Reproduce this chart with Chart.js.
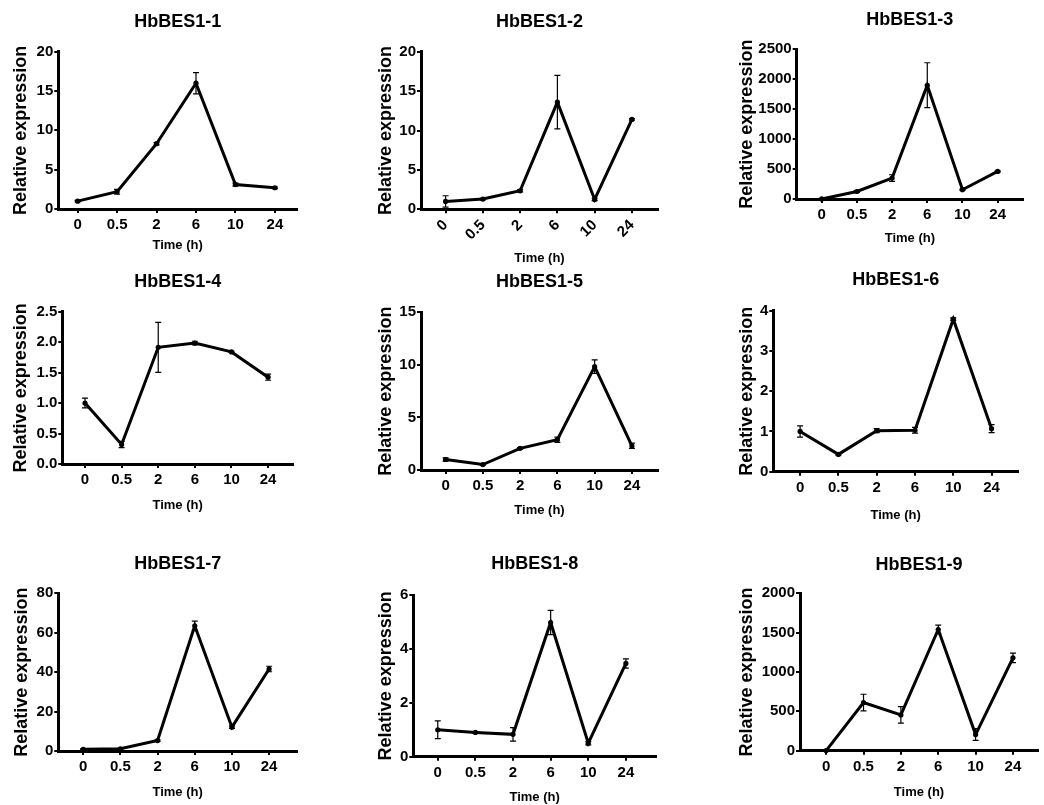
<!DOCTYPE html>
<html>
<head>
<meta charset="utf-8">
<script src="https://cdn.jsdelivr.net/npm/chart.js@4/dist/chart.umd.min.js"></script>
<style>
  body { margin: 0; background: #fff; }
  #wrap { position: relative; width: 1044px; height: 805px; overflow: hidden; }
  .panel { position: absolute; }
</style>
</head>
<body>
<div id="wrap"></div>
<script>
// time points (h)
const timeLabels = ['0', '0.5', '2', '6', '10', '24'];
const geneNames = ['HbBES1-1', 'HbBES1-2', 'HbBES1-3', 'HbBES1-4', 'HbBES1-5',
                   'HbBES1-6', 'HbBES1-7', 'HbBES1-8', 'HbBES1-9'];

// mean relative expression
const expr1 = [1.0, 2.2, 8.3, 16.0, 3.1, 2.7];
const expr2 = [1.0, 1.3, 2.35, 13.6, 1.25, 11.4];
const expr3 = [1, 125, 350, 1900, 155, 460];
const expr4 = [1.0, 0.32, 1.915, 1.985, 1.84, 1.425];
const expr5 = [1.0, 0.52, 2.06, 2.88, 9.83, 2.3];
const expr6 = [1.0, 0.43, 1.02, 1.03, 3.79, 1.07];
const expr7 = [0.9, 1.1, 5.3, 63.5, 12.1, 41.6];
const expr8 = [1.0, 0.9, 0.83, 4.98, 0.5, 3.46];
const expr9 = [1, 612, 455, 1540, 205, 1180];

// error bars (+/-)
const err1 = [0.1, 0.3, 0.15, 1.35, 0.2, 0.1];
const err2 = [0.72, 0.1, 0.15, 3.4, 0.15, 0.1];
const err3 = [1, 15, 55, 375, 10, 10];
const err4 = [0.08, 0.05, 0.41, 0.03, 0.01, 0.05];
const err5 = [0.15, 0.05, 0.08, 0.25, 0.65, 0.25];
const err6 = [0.14, 0.02, 0.05, 0.07, 0.03, 0.1];
const err7 = [0.3, 0.3, 0.4, 2.4, 0.6, 1.4];
const err8 = [0.33, 0.03, 0.25, 0.45, 0.06, 0.17];
const err9 = [1, 105, 105, 55, 75, 60];

// y axis ticks
const yTickMax = [20, 20, 2500, 2.5, 15, 4, 80, 6, 2000];
const yTickStep = [5, 5, 500, 0.5, 5, 1, 20, 2, 500];

const exprAll = [expr1, expr2, expr3, expr4, expr5, expr6, expr7, expr8, expr9];
const errAll = [err1, err2, err3, err4, err5, err6, err7, err8, err9];

// where each panel sits on the page
const panelBoxes = [
  { axisX: 58.3,  plotTop: 51.7,  plotBottom: 209,   plotRight: 297,  titleY: 21.7,  yTitleX: 20.8,  xTitleY: 245,   xMin: -0.49, xMax: 5.56 },
  { axisX: 421,   plotTop: 51.7,  plotBottom: 209.3, plotRight: 658,  titleY: 21.7,  yTitleX: 385.8, xTitleY: 258,   xMin: -0.66, xMax: 5.70, rotate: 45 },
  { axisX: 796.7, plotTop: 49.3,  plotBottom: 199,   plotRight: 1023, titleY: 20,    yTitleX: 746.3, xTitleY: 237.7, xMin: -0.71, xMax: 5.72 },
  { axisX: 62.3,  plotTop: 311.7, plotBottom: 464,   plotRight: 293,  titleY: 281.7, yTitleX: 20.8,  xTitleY: 505,   xMin: -0.62, xMax: 5.68 },
  { axisX: 421,   plotTop: 312.3, plotBottom: 470,   plotRight: 658,  titleY: 281.7, yTitleX: 385.8, xTitleY: 510,   xMin: -0.66, xMax: 5.70 },
  { axisX: 773.3, plotTop: 310.7, plotBottom: 471.7, plotRight: 1018, titleY: 280,   yTitleX: 746.7, xTitleY: 515,   xMin: -0.70, xMax: 5.69 },
  { axisX: 58.3,  plotTop: 593.3, plotBottom: 751,   plotRight: 297,  titleY: 563.3, yTitleX: 22.2,  xTitleY: 791.7, xMin: -0.67, xMax: 5.75 },
  { axisX: 413.3, plotTop: 595,   plotBottom: 756.7, plotRight: 656,  titleY: 563.3, yTitleX: 385.5, xTitleY: 796.7, xMin: -0.65, xMax: 5.80 },
  { axisX: 800,   plotTop: 593.3, plotBottom: 750.7, plotRight: 1038, titleY: 565,   yTitleX: 747,   xTitleY: 791.7, xMin: -0.70, xMax: 5.67 }
];

const FONT = '"Liberation Sans", Arial, Helvetica, sans-serif';
const TITLE_LH = 18 * 1.2;
const YTITLE_LH = 18 * 1.2;
const XTITLE_LH = 13 * 1.2;

// draws the +/- error bars with caps
const errorBars = {
  id: 'errorBars',
  afterDatasetsDraw(chart) {
    const ctx = chart.ctx;
    const yScale = chart.scales.y;
    chart.data.datasets.forEach((ds, di) => {
      const meta = chart.getDatasetMeta(di);
      meta.data.forEach((pt, k) => {
        const v = ds.data[k].y;
        const e = ds.errors[k];
        const yTop = yScale.getPixelForValue(v + e);
        const yBot = yScale.getPixelForValue(Math.max(0, v - e));
        ctx.save();
        ctx.strokeStyle = '#000';
        ctx.lineWidth = 1.2;
        ctx.beginPath();
        ctx.moveTo(pt.x, yTop);
        ctx.lineTo(pt.x, yBot);
        ctx.moveTo(pt.x - 3, yTop);
        ctx.lineTo(pt.x + 3, yTop);
        ctx.moveTo(pt.x - 3, yBot);
        ctx.lineTo(pt.x + 3, yBot);
        ctx.stroke();
        ctx.restore();
      });
    });
  }
};

const wrap = document.getElementById('wrap');

exprAll.forEach((vals, i) => {
  const b = panelBoxes[i];
  const left = Math.round(b.yTitleX - YTITLE_LH / 2);
  const top = Math.round(b.titleY - TITLE_LH / 2);
  const right = Math.round(b.plotRight + 4);
  const bottom = Math.round(b.xTitleY + XTITLE_LH / 2);
  const w = right - left;
  const h = bottom - top;
  const yWidth = b.axisX - left;
  const xHeight = bottom - b.plotBottom;
  const titleGap = b.plotTop - top - TITLE_LH;

  const div = document.createElement('div');
  div.className = 'panel';
  div.style.left = left + 'px';
  div.style.top = top + 'px';
  const canvas = document.createElement('canvas');
  canvas.width = w;
  canvas.height = h;
  div.appendChild(canvas);
  wrap.appendChild(div);

  const step = yTickStep[i];

  new Chart(canvas, {
    type: 'line',
    data: {
      datasets: [{
        data: vals.map((v, k) => ({ x: k, y: v })),
        errors: errAll[i],
        borderColor: '#000',
        borderWidth: 3,
        pointRadius: 2.6,
        pointBackgroundColor: '#000',
        pointBorderWidth: 0,
        tension: 0,
        clip: false
      }]
    },
    options: {
      responsive: false,
      animation: false,
      layout: { padding: { left: 0, right: 4, top: 0, bottom: 0 } },
      plugins: {
        legend: { display: false },
        tooltip: { enabled: false },
        title: {
          display: true,
          text: geneNames[i],
          fullSize: false,
          color: '#000',
          font: { family: FONT, size: 18, weight: 'bold' },
          padding: { top: 0, bottom: titleGap }
        }
      },
      scales: {
        x: {
          type: 'linear',
          min: b.xMin,
          max: b.xMax,
          afterBuildTicks: s => { s.ticks = timeLabels.map((t, k) => ({ value: k })); },
          afterFit: s => { s.height = xHeight; },
          ticks: {
            callback: v => timeLabels[v],
            color: '#000',
            font: { family: FONT, size: 15, weight: 'bold' },
            padding: 3,
            autoSkip: false,
            minRotation: b.rotate || 0,
            maxRotation: b.rotate || 0
          },
          grid: { drawOnChartArea: false, drawTicks: true, tickLength: 4, lineWidth: 2, color: '#000' },
          border: { width: 3, color: '#000' },
          title: {
            display: true,
            text: 'Time (h)',
            color: '#000',
            font: { family: FONT, size: 13, weight: 'bold' },
            padding: 0
          }
        },
        y: {
          min: 0,
          max: yTickMax[i],
          afterFit: s => { s.width = yWidth; },
          ticks: {
            stepSize: step,
            callback: v => step < 1 ? v.toFixed(1) : String(Math.round(v)),
            color: '#000',
            font: { family: FONT, size: 15, weight: 'bold' },
            padding: 1
          },
          grid: { drawOnChartArea: false, drawTicks: true, tickLength: 4, lineWidth: 2, color: '#000' },
          border: { width: 3, color: '#000' },
          title: {
            display: true,
            text: 'Relative expression',
            color: '#000',
            font: { family: FONT, size: 18, weight: 'bold' },
            padding: 0
          }
        }
      }
    },
    plugins: [errorBars]
  });
});
</script>
</body>
</html>
